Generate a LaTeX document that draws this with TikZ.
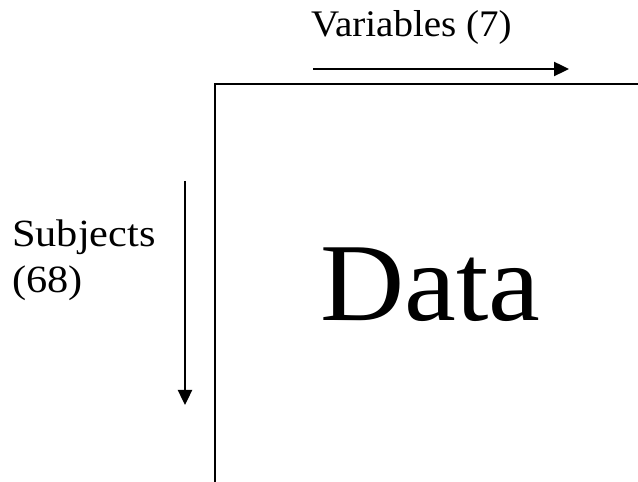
\documentclass[tikz,border=0pt]{standalone}
\usepackage{fontspec}
\usepackage{graphicx}
\setmainfont{Liberation Serif}
\usetikzlibrary{arrows.meta}
\newcommand{\widen}[2]{\scalebox{#1}[1]{#2}}
\begin{document}
\begin{tikzpicture}[x=1pt,y=1pt,
  frame/.style={line width=2.4pt},
  dirarrow/.style={line width=2.4pt,-{Triangle[length=15pt,width=14pt]}},
  lbl/.style={inner sep=0pt,font=\fontsize{37.5}{43}\selectfont,align=left},
  lbls/.style={inner sep=0pt,font=\fontsize{38.5}{43}\selectfont,align=left},
  big/.style={inner sep=0pt,font=\fontsize{111}{114}\selectfont}]
\useasboundingbox (0,0) rectangle (638,482);
% frame corner
\coordinate (tr) at (638,398);
\coordinate (corner) at (215,398);
\coordinate (bl) at (215,0);
\draw[frame] (tr) -- (corner) -- (bl);
% arrows
\coordinate (hs) at (313,413);
\coordinate (he) at (569,413);
\draw[dirarrow] (hs) -- (he);
\coordinate (vs) at (185,301);
\coordinate (ve) at (185,77);
\draw[dirarrow] (vs) -- (ve);
% labels
\node[lbl,anchor=base west] (vars) at (311,445.5) {\widen{1.04}{Variables (7)}};
\node[lbls,anchor=base west] (subj) at (12,235) {\widen{1.1}{Subjects}};
\node[lbls,anchor=base west] (subjn) at (12,189) {\widen{1.1}{(68)}};
\node[big,anchor=base west] (data) at (320,161) {\widen{1.05}{Data}};
\end{tikzpicture}
\end{document}
